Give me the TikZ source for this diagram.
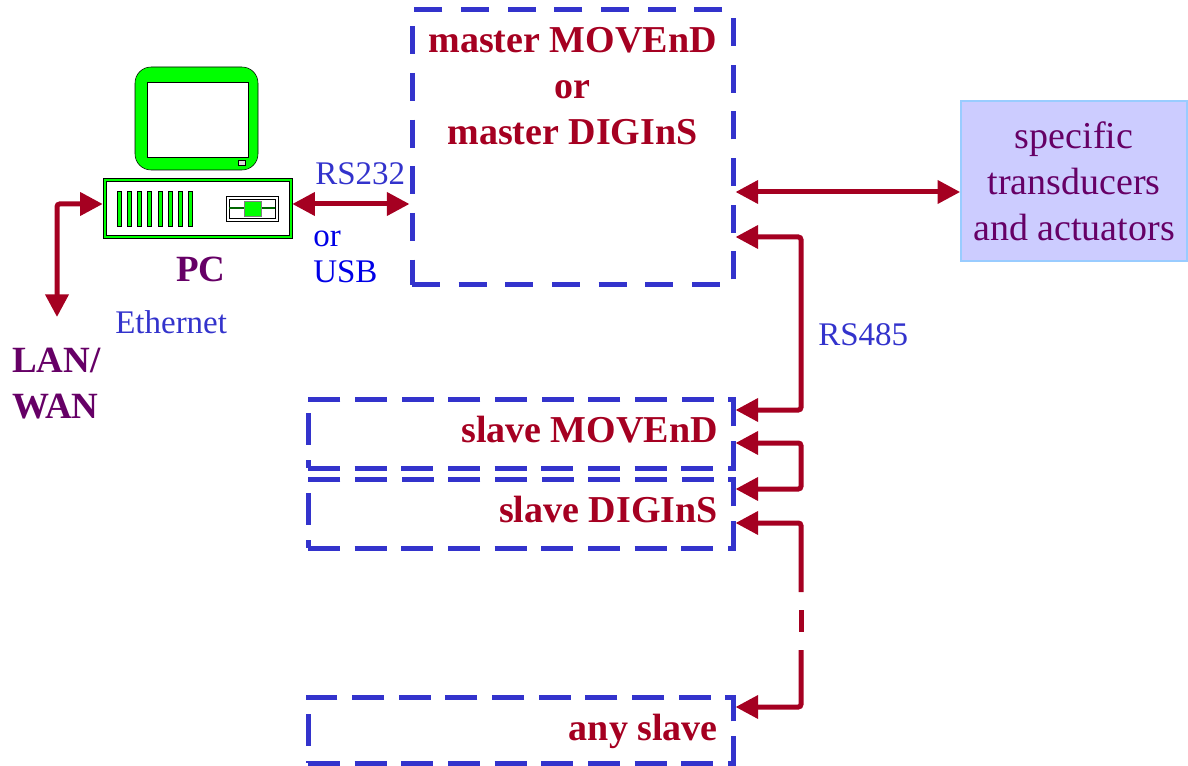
\documentclass[tikz,border=0pt]{standalone}
\usepackage{fontspec}
\setmainfont{Liberation Serif}
\usetikzlibrary{arrows.meta}

\definecolor{linkred}{RGB}{165,0,33}
\definecolor{boxblue}{RGB}{51,51,204}
\definecolor{lblblue}{RGB}{51,51,204}
\definecolor{orblue}{RGB}{0,0,230}
\definecolor{darkpurple}{RGB}{102,0,102}
\definecolor{transfill}{RGB}{204,204,255}
\definecolor{transline}{RGB}{153,204,255}
\definecolor{pcgreen}{RGB}{0,255,0}

\begin{document}
\begin{tikzpicture}[x=0.75pt,y=0.75pt,yscale=-1,xscale=1,
  >={Triangle[length=17pt,width=17pt]},
  link/.style={draw=linkred,line width=3.75pt,rounded corners=2pt},
  devbox/.style={draw=boxblue,line width=3.75pt,dash pattern=on 24pt off 11pt,inner sep=0pt,minimum width=318.75pt},
  bigtxt/.style={font=\fontsize{28.5pt}{34.5pt}\selectfont},
  redtxt/.style={bigtxt,text=linkred,font=\fontsize{28.5pt}{34.5pt}\selectfont\bfseries,inner sep=0pt},
  smalltxt/.style={font=\fontsize{24.75pt}{27pt}\selectfont,inner sep=0pt}]
\useasboundingbox (0,0) rectangle (1188,766);

%Shape: Monitor
\draw [fill=pcgreen,rounded corners=12pt] (135,67) rectangle (258,170) ;
\draw [fill=white] (147,82) rectangle (248,157) ;
\draw [fill=gray!30] (238,160) rectangle (245,165) ;
%Shape: Case
\node [draw=black,fill=pcgreen,inner sep=0pt,minimum width=141.75pt,minimum height=45pt] (pc) at (197.5,208) {};
\draw [fill=white] (106,181) rectangle (289,235) ;
\foreach \i in {0,...,7}
  \draw [fill=pcgreen] (117+\i*10.2,191) rectangle ++(4,35) ;
%Shape: Drive
\draw (226,196) rectangle (278,221) ;
\draw (229,199) rectangle (275,218) ;
\draw [draw=green!40!black,line width=1.5pt] (229,208.5) -- (275,208.5) ;
\draw [fill=pcgreen,draw=gray] (244,201) rectangle (261,216) ;

%Shape: Master box
\node [devbox,minimum width=240.75pt,minimum height=206.25pt,dash pattern=on 21pt off 14pt] (master) at (572.5,147.5) {};
%Shape: Slave boxes
\node [devbox,minimum height=51.75pt] (slavemov) at (520.5,433.5) {};
\node [devbox,minimum height=51.75pt] (slavedig) at (520.5,513.5) {};
\node [devbox,minimum height=49.5pt] (anyslave) at (520.5,730) {};
%Shape: Transducers box
\node [draw=transline,fill=transfill,line width=1.2pt,minimum width=169.5pt,minimum height=120pt,
  bigtxt,text=darkpurple,align=center] (trans) at (1074,181) {specific\\transducers\\and actuators};

%Bus coordinates
\coordinate (b1) at (801,237) ;
\coordinate (b2) at (801,410) ;
\coordinate (b3) at (801,443) ;
\coordinate (b4) at (801,489) ;
\coordinate (b5) at (801,523) ;
\coordinate (b6) at (801,592) ;
\coordinate (b7) at (801,610) ;
\coordinate (b8) at (801,632) ;
\coordinate (b9) at (801,650) ;
\coordinate (b10) at (801,707) ;
\coordinate (eth) at (57,317) ;

%Straight Lines
\draw [link,<->] ([yshift=-3pt]pc.east) -- ([yshift=-3pt]pc.east -| master.west) ;
\draw [link,<->] ([yshift=-3pt]pc.west) -| (eth) ;
\draw [link,<->] ([yshift=8.25pt]trans.west -| master.east) -- ([yshift=8.25pt]trans.west) ;
\draw [link,<->] (master.east |- b1) -- (b1) -- (b2) -- (slavemov.east |- b2) ;
\draw [link,<->] (slavemov.east |- b3) -- (b3) -- (b4) -- (slavedig.east |- b4) ;
\draw [link,<-] (slavedig.east |- b5) -- (b5) -- (b6) ;
\draw [link] (b7) -- (b8) ;
\draw [link,->] (b9) -- (b10) -- (anyslave.east |- b10) ;

% Text Node
\draw (572.5,27.5) node [anchor=north][redtxt,align=center] (mastertxt) {master MOVEnD\\or\\master DIGInS};
% Text Node
\draw (718,442) node [anchor=base east][redtxt] (slavemovtxt) {slave MOVEnD};
% Text Node
\draw (718,522) node [anchor=base east][redtxt] (slavedigtxt) {slave DIGInS};
% Text Node
\draw (718,740) node [anchor=base east][redtxt] (anyslavetxt) {any slave};
% Text Node
\draw (201,282) node [anchor=base][inner sep=0pt,text=darkpurple,font=\fontsize{27.75pt}{34.5pt}\selectfont\bfseries] (pclbl) {PC};
% Text Node
\draw (12,347.5) node [anchor=north west][inner sep=0pt,align=left,text=darkpurple,font=\fontsize{27.75pt}{34.5pt}\selectfont\bfseries] (lanlbl) {LAN/\\WAN};
% Text Node
\draw (315,185) node [anchor=base west][smalltxt,text=lblblue] (rs232lbl) {RS232};
% Text Node
\draw (313,247) node [anchor=base west][smalltxt,text=orblue] (orlbl) {or};
% Text Node
\draw (313,283) node [anchor=base west][smalltxt,text=orblue] (usblbl) {USB};
% Text Node
\draw (115,334) node [anchor=base west][smalltxt,text=lblblue] (ethlbl) {Ethernet};
% Text Node
\draw (818,346) node [anchor=base west][smalltxt,text=lblblue] (rs485lbl) {RS485};

\end{tikzpicture}
\end{document}
